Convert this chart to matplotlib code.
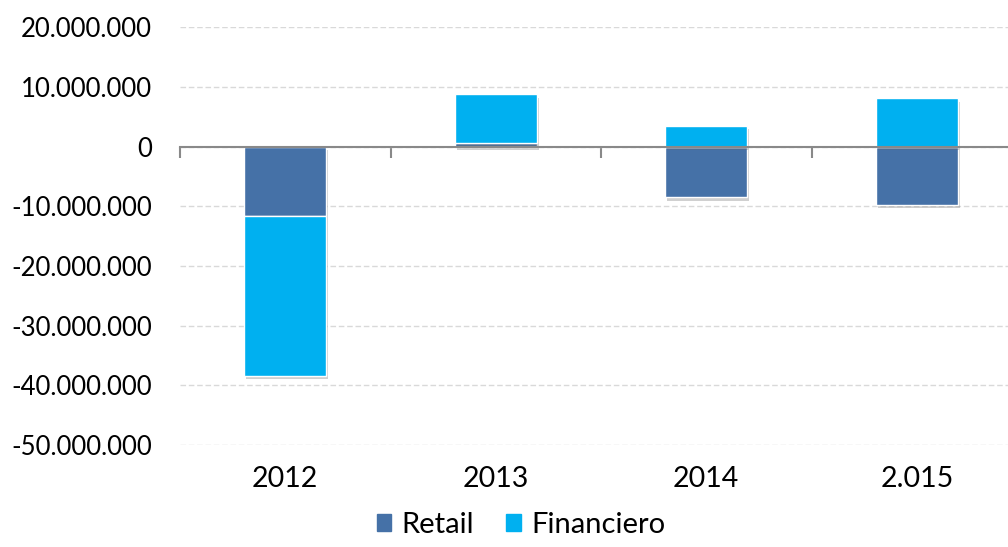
import numpy as np
import matplotlib
matplotlib.use('Agg')
import matplotlib.pyplot as plt
import matplotlib.patheffects as pe
from matplotlib.patches import Patch
from matplotlib.ticker import FuncFormatter

plt.rcParams['font.family'] = ['Lato', 'DejaVu Sans']

# data
years = ['2012', '2013', '2014', '2.015']
retail = [-11.6e6, 0.67e6, -8.5e6, -9.7e6]
financiero = [-26.8e6, 8.1e6, 3.5e6, 8.1e6]

c_retail = '#4571A7'
c_fin = '#00B0F0'

x = np.arange(len(years))
retail = np.array(retail)
financiero = np.array(financiero)
# stack financiero on retail only when both have the same sign
fin_bottom = np.where(np.sign(retail) == np.sign(financiero), retail, 0)

fig = plt.figure(figsize=(10.08, 5.47), dpi=100)
ax = fig.add_axes([180 / 1008, 1 - 445 / 547, 842 / 1008, (445 - 27.3) / 547])

shadow = [pe.SimplePatchShadow(offset=(1.5, -2.5), shadow_rgbFace='#666666', alpha=0.3), pe.Normal()]
w = 0.39
b1 = ax.bar(x, retail, w, color=c_retail, edgecolor='white', linewidth=1, zorder=3)
b2 = ax.bar(x, financiero, w, bottom=fin_bottom, color=c_fin, edgecolor='white', linewidth=1, zorder=3)
for p in list(b1) + list(b2):
    p.set_path_effects(shadow)

fs = 18.5
ax.set_xlim(-0.5, len(years) - 0.5)
ax.set_ylim(-50e6, 20e6)
ax.set_yticks(np.arange(-50e6, 20e6 + 1, 10e6))
ax.yaxis.set_major_formatter(FuncFormatter(lambda v, p: f'{v:,.0f}'.replace(',', '.')))
ax.grid(axis='y', color='#D9D9D9', linestyle=(0, (4, 2)), linewidth=1, zorder=0)
ax.tick_params(axis='y', length=0, pad=20, labelsize=fs, labelcolor='black')

for s in ['top', 'right', 'left']:
    ax.spines[s].set_visible(False)
ax.spines['bottom'].set_position(('data', 0))
ax.spines['bottom'].set_color('#898989')
ax.spines['bottom'].set_linewidth(1.5)
ax.spines['bottom'].set_zorder(4)
ax.set_xticks(np.arange(-0.5, len(years), 1.0))
ax.set_xticklabels([])
ax.tick_params(axis='x', length=8, width=1.5, color='#898989', direction='out')

sec = ax.secondary_xaxis('bottom')
sec.set_xticks(x)
sec.set_xticklabels(years)
sec.tick_params(length=0, pad=15, labelsize=20.5)
sec.spines['bottom'].set_visible(False)

handles = [Patch(color=c_retail, label='Retail'), Patch(color=c_fin, label='Financiero')]
fig.legend(handles=handles, loc='center', bbox_to_anchor=(521 / 1008, 1 - 525 / 547), ncol=2,
           frameon=False, fontsize=21, handlelength=0.5, handleheight=0.5, handletextpad=0.35,
           columnspacing=1.1)

fig.savefig('out.png', dpi=100)
